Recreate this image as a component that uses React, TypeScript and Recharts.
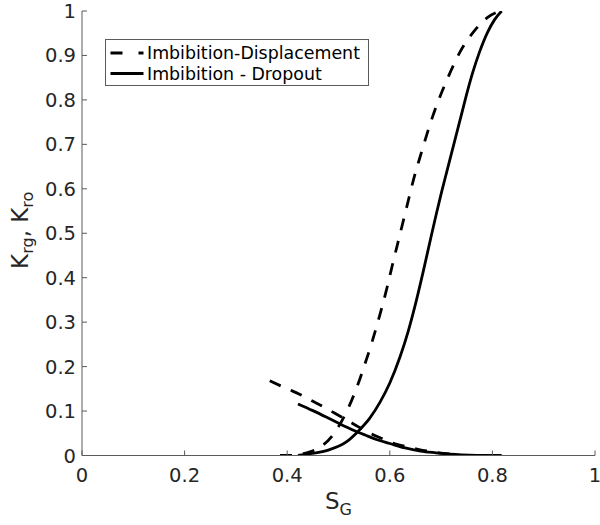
import React from "react";
import { LineChart, Line, XAxis, YAxis } from "recharts";

// ---- Data ----
const dispGasSg = [0.386, 0.408, 0.438, 0.46, 0.489, 0.516, 0.535, 0.551, 0.566, 0.581, 0.594, 0.606, 0.621, 0.634, 0.647, 0.662, 0.677, 0.694, 0.714, 0.737, 0.766, 0.79, 0.815];
const dispGasK = [0, 0, 0.006, 0.016, 0.046, 0.099, 0.151, 0.204, 0.258, 0.318, 0.375, 0.433, 0.503, 0.564, 0.624, 0.683, 0.74, 0.796, 0.852, 0.908, 0.957, 0.985, 1.0];

const dispOilSg = [0.366, 0.402, 0.424, 0.447, 0.47, 0.493, 0.516, 0.538, 0.558, 0.587, 0.606, 0.636, 0.655, 0.684, 0.704, 0.72];
const dispOilK = [0.168, 0.149, 0.138, 0.124, 0.11, 0.095, 0.08, 0.065, 0.052, 0.037, 0.028, 0.019, 0.014, 0.008, 0.005, 0.003];

const dropGasSg = [0.421, 0.445, 0.48, 0.516, 0.538, 0.561, 0.581, 0.6, 0.62, 0.636, 0.651, 0.665, 0.681, 0.691, 0.701, 0.711, 0.721, 0.731, 0.741, 0.751, 0.762, 0.775, 0.791, 0.804, 0.818];
const dropGasK = [0, 0.004, 0.012, 0.031, 0.054, 0.084, 0.12, 0.163, 0.222, 0.28, 0.345, 0.413, 0.495, 0.545, 0.593, 0.638, 0.683, 0.728, 0.773, 0.818, 0.863, 0.908, 0.953, 0.98, 1.0];

const dropOilSg = [0.421, 0.45, 0.477, 0.503, 0.529, 0.552, 0.574, 0.6, 0.63, 0.66, 0.69, 0.717, 0.77, 0.818];
const dropOilK = [0.116, 0.101, 0.086, 0.071, 0.057, 0.046, 0.036, 0.027, 0.017, 0.01, 0.006, 0.003, 0.0005, 0];

const xTicks = [0, 0.2, 0.4, 0.6, 0.8, 1];
const xTickLabels = ["0", "0.2", "0.4", "0.6", "0.8", "1"];
const yTicks = [0, 0.1, 0.2, 0.3, 0.4, 0.5, 0.6, 0.7, 0.8, 0.9, 1];
const yTickLabels = ["0", "0.1", "0.2", "0.3", "0.4", "0.5", "0.6", "0.7", "0.8", "0.9", "1"];

const legendNames = ["Imbibition-Displacement", "Imbibition - Dropout"];

const zip = (xs: number[], ys: number[]) => xs.map((sg, i) => ({ sg, k: ys[i] }));

const FONT = "'DejaVu Sans', sans-serif";
const AXIS = "#5a5a5a";
const TEXT = "#262626";
const TICK_LEN = 5;
const LW = 2.8;
const DASH = "12 11";

const BottomTick = (props: any) => {
  const { x, y, payload } = props;
  const i = xTicks.indexOf(payload.value);
  return (
    <g>
      <line x1={x} y1={y} x2={x} y2={y - TICK_LEN} stroke={AXIS} strokeWidth={1} />
      <text x={x} y={y + 26.5} textAnchor="middle" fontFamily={FONT} fontSize={19.5} fill={TEXT}>
        {i >= 0 ? xTickLabels[i] : payload.value}
      </text>
    </g>
  );
};
const TopTick = (props: any) => {
  const { x, y } = props;
  return <line x1={x} y1={y} x2={x} y2={y + TICK_LEN} stroke={AXIS} strokeWidth={1} />;
};
const LeftTick = (props: any) => {
  const { x, y, payload } = props;
  const i = yTicks.indexOf(payload.value);
  return (
    <g>
      <line x1={x} y1={y} x2={x + TICK_LEN} y2={y} stroke={AXIS} strokeWidth={1} />
      <text x={x - 6} y={y + 7} textAnchor="end" fontFamily={FONT} fontSize={19.5} fill={TEXT}>
        {i >= 0 ? yTickLabels[i] : payload.value}
      </text>
    </g>
  );
};
const RightTick = (props: any) => {
  const { x, y } = props;
  return <line x1={x} y1={y} x2={x - TICK_LEN} y2={y} stroke={AXIS} strokeWidth={1} />;
};

const YLabel = (props: any) => {
  const vb = props.viewBox || {};
  const cx = 28;
  const cy = (vb.y ?? 11) + (vb.height ?? 444.5) / 2 - 3;
  return (
    <text
      x={cx}
      y={cy}
      transform={`rotate(-90, ${cx}, ${cy})`}
      textAnchor="middle"
      fontFamily={FONT}
      fontSize={23}
      fill={TEXT}
    >
      <tspan>K</tspan>
      <tspan fontSize={16} dy={5}>rg</tspan>
      <tspan dy={-5}>, K</tspan>
      <tspan fontSize={16} dy={5}>ro</tspan>
    </text>
  );
};

const XLabel = (props: any) => {
  const vb = props.viewBox || {};
  const cx = (vb.x ?? 82) + (vb.width ?? 513) / 2;
  const cy = 509;
  return (
    <text x={cx} y={cy} textAnchor="middle" fontFamily={FONT} fontSize={23} fill={TEXT}>
      <tspan>S</tspan>
      <tspan fontSize={16} dy={6}>G</tspan>
    </text>
  );
};

const LegendBox = () => (
  <svg
    width={264}
    height={47}
    style={{ position: "absolute", left: 104.5, top: 39, overflow: "visible" }}
  >
    <rect x={0.5} y={0.5} width={263} height={46} fill="#fff" stroke={AXIS} strokeWidth={1} />
    <line x1={5.5} y1={14} x2={38.5} y2={14} stroke="#000" strokeWidth={LW} strokeDasharray="12 16" />
    <text x={42} y={20} fontFamily={FONT} fontSize={17.4} fill="#000">{legendNames[0]}</text>
    <line x1={5.5} y1={34.5} x2={38.5} y2={34.5} stroke="#000" strokeWidth={LW} />
    <text x={42} y={40.5} fontFamily={FONT} fontSize={17.4} fill="#000">{legendNames[1]}</text>
  </svg>
);

export default function App() {
  return (
    <div style={{ position: "absolute", left: 0, top: 0, width: 600, height: 525, background: "#fff" }}>
      <LineChart width={600} height={525} margin={{ top: 11, right: 5, bottom: 0, left: 0 }}>
        <XAxis
          xAxisId="b"
          type="number"
          dataKey="sg"
          domain={[0, 1]}
          ticks={xTicks}
          interval={0}
          height={69.5}
          tickSize={0}
          tickMargin={0}
          tickLine={false}
          axisLine={{ stroke: AXIS, strokeWidth: 1 }}
          tick={<BottomTick />}
          label={<XLabel />}
          allowDataOverflow
        />
        <XAxis
          xAxisId="t"
          orientation="top"
          type="number"
          dataKey="sg"
          domain={[0, 1]}
          ticks={xTicks}
          interval={0}
          height={0}
          tickSize={0}
          tickMargin={0}
          tickLine={false}
          axisLine={{ stroke: AXIS, strokeWidth: 1 }}
          tick={<TopTick />}
          allowDataOverflow
        />
        <YAxis
          yAxisId="l"
          type="number"
          domain={[0, 1]}
          ticks={yTicks}
          interval={0}
          width={82}
          tickSize={0}
          tickMargin={0}
          tickLine={false}
          axisLine={{ stroke: AXIS, strokeWidth: 1 }}
          tick={<LeftTick />}
          label={<YLabel />}
          allowDataOverflow
        />
        <YAxis
          yAxisId="r"
          orientation="right"
          type="number"
          domain={[0, 1]}
          ticks={yTicks}
          interval={0}
          width={0}
          tickSize={0}
          tickMargin={0}
          tickLine={false}
          axisLine={{ stroke: AXIS, strokeWidth: 1 }}
          tick={<RightTick />}
          allowDataOverflow
        />
        <Line
          xAxisId="b"
          yAxisId="l"
          data={zip(dispGasSg, dispGasK)}
          dataKey="k"
          type="monotone"
          stroke="#000"
          strokeWidth={LW}
          strokeDasharray={DASH}
          dot={false}
          isAnimationActive={false}
          name={legendNames[0]}
        />
        <Line
          xAxisId="b"
          yAxisId="l"
          data={zip(dispOilSg, dispOilK)}
          dataKey="k"
          type="monotone"
          stroke="#000"
          strokeWidth={LW}
          strokeDasharray={DASH}
          dot={false}
          isAnimationActive={false}
          name={legendNames[0] + " oil"}
        />
        <Line
          xAxisId="b"
          yAxisId="l"
          data={zip(dropGasSg, dropGasK)}
          dataKey="k"
          type="monotone"
          stroke="#000"
          strokeWidth={LW}
          dot={false}
          isAnimationActive={false}
          name={legendNames[1]}
        />
        <Line
          xAxisId="b"
          yAxisId="l"
          data={zip(dropOilSg, dropOilK)}
          dataKey="k"
          type="monotone"
          stroke="#000"
          strokeWidth={LW}
          dot={false}
          isAnimationActive={false}
          name={legendNames[1] + " oil"}
        />
      </LineChart>
      <LegendBox />
    </div>
  );
}
